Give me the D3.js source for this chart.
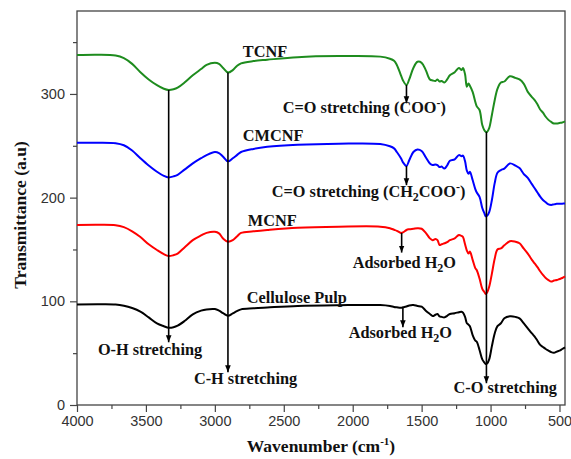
<!DOCTYPE html>
<html><head><meta charset="utf-8">
<script src="https://cdn.jsdelivr.net/npm/d3@7"></script>
<style>
html,body{margin:0;padding:0;background:#fff;}
svg{display:block;}
.lbl{font-family:"Liberation Serif","Times New Roman",serif;font-weight:bold;font-size:16.3px;fill:#111;}
.tick text{font-family:"Liberation Sans",Arial,sans-serif;font-size:14.5px;fill:#333;}
</style>
</head><body>
<svg id="chart" width="571" height="459"></svg>
<script>
const wavenumbers = [4000,3850,3720,3660,3600,3540,3480,3420,3370,3335,3300,3270,3220,3160,3100,3060,3000,2970,2940,2905,2870,2840,2810,2720,2620,2400,2100,1800,1730,1700,1680,1650,1635,1610,1590,1560,1530,1500,1470,1440,1420,1400,1385,1370,1355,1335,1315,1295,1260,1230,1210,1200,1185,1172,1160,1150,1130,1110,1100,1080,1060,1045,1035,1025,1010,990,970,950,925,900,860,820,790,760,730,700,680,660,640,620,600,580,560,540,520,500,480,460];

const tcnf = [337.5,337.8,337,334.5,329,321,314,308.5,305,303.8,304.5,306,311,318,324,328,330,329,325,320.6,323,327,329.5,331.7,333,335.5,336.5,336,334,332,328,318,313,308.6,314,325,331,330,323,314,313,312.5,314,312,312.5,311,314,318,321,325,323,325,319,307,310,308,302,292,288,284.5,270,265,263.5,263.5,267,280,294,305,311,312,317,315.5,314,310,302,297,294,290,285,282,278,275,273,271.5,271.5,272,272.5,273.5];

const cmcnf = [253,253,252.5,250.5,245.5,238,231,225,221,219.5,220.5,222,227,233,238,241,244,243,239.5,235,238,241,244,247,249,251,252,251.7,249.5,247.5,244,238,234,230.5,236,244,246.5,245,239,233,231.4,232,231.4,229.5,230,228,231,235.6,237,241,240,240.5,235,226,223,225,217,208,205,200.8,190,185,182,182.5,186,198,214,224,226.6,228,233,231,228.5,223,219,213,209,205,201,197.7,195.5,193.5,193,193.5,194,194,194.2,194.4];

const mcnf = [173.6,173.8,173.4,171.5,167.5,162,155,149.5,145.5,143.7,144.5,146,152,159,163.5,166,167,165.5,160.5,157.5,159,162.5,166,167.5,168.8,171,172,172,170.5,169,168,166,166.5,168.8,169.5,170,170.5,170,166,160.7,159,160,159,154.3,155,156,157,159,160.7,164,163,162,155,149,146,148,140,131.8,130,122,112,109,107,108.5,114,127,141,150,151,154,158,157.5,156,151,146,140,136.5,133,129,125.5,122.5,120.5,119,120,120.5,121.5,122.5,124];

const pulp = [97,97.2,97,95.8,93.5,90,84.5,78.7,76,74.5,75,76.5,81,87.5,91,92.2,92.5,91,88.5,86,88.4,90.5,92.2,93.2,94,95.6,96.3,96.4,95.5,94.5,94.2,93.8,94.2,95,96,96.4,95.5,94.8,91,87.8,85.8,87,87.8,85.5,85,84.5,86,87.8,88.5,89.5,90,89,85,78.8,77.5,76,67.5,62,61,53,44,41,39.5,40,44,57,69,76,78.8,83.6,85.5,85,83.6,79,74,69,66,62,58,56,54,52.5,51,50.4,51.5,52.4,54,55.6];

const seriesNames = ["TCNF","CMCNF","MCNF","Cellulose Pulp"];
const seriesColors = ["#1e8c1e","#0000ff","#ff0000","#000000"];
const xTicks = [4000,3500,3000,2500,2000,1500,1000,500];
const xMinor = [3750,3250,2750,2250,1750,1250,750];
const yTicks = [0,100,200,300];
const yMinor = [50,150,250,350];

// arrows: [wavenumber, from, to]
const longArrows = [[3335,303.8,60.5],[2905,320.6,31.5],[1030,263.5,21]];
const shortArrows = [[1610,308.6,291],[1610,230.5,212],[1645,166,147],[1636,94,75]];

const svg = d3.select("#chart");
const x = d3.scaleLinear().domain([4000,460]).range([77,565]);
const y = d3.scaleLinear().domain([0,380]).range([405,11]);

svg.append("defs").append("marker")
  .attr("id","ah").attr("viewBox","0 0 10 10").attr("refX",10).attr("refY",5)
  .attr("markerWidth",7).attr("markerHeight",7).attr("markerUnits","userSpaceOnUse")
  .attr("orient","auto")
  .append("path").attr("d","M0,1 L10,5 L0,9 Z").attr("fill","#000");

svg.append("g").attr("transform","translate(0,405)")
  .call(d3.axisBottom(x).tickValues(xTicks).tickSize(7).tickPadding(4).tickFormat(d3.format("d")));
svg.append("g").attr("transform","translate(0,405)")
  .call(d3.axisBottom(x).tickValues(xMinor).tickSize(4).tickFormat(""));
svg.append("g").attr("transform","translate(77,0)")
  .call(d3.axisLeft(y).tickValues(yTicks).tickSize(7).tickPadding(5).tickFormat(d3.format("d")));
svg.append("g").attr("transform","translate(77,0)")
  .call(d3.axisLeft(y).tickValues(yMinor).tickSize(4).tickFormat(""));
svg.selectAll(".domain").remove();
svg.selectAll(".tick line").attr("stroke","#444").attr("stroke-width",1.2);

svg.append("rect").attr("x",x(4000)).attr("y",y(380))
  .attr("width",x(460)-x(4000)).attr("height",y(0)-y(380))
  .attr("fill","none").attr("stroke","#444").attr("stroke-width",1.3);

const all = [tcnf,cmcnf,mcnf,pulp];
const line = d3.line().x((d,i)=>x(wavenumbers[i])).y(d=>y(d)).curve(d3.curveCatmullRom.alpha(0.5));
all.forEach((s,k)=>{
  svg.append("path").datum(s).attr("d",line).attr("fill","none")
    .attr("stroke",seriesColors[k]).attr("stroke-width",2).attr("stroke-linejoin","round");
});

longArrows.concat(shortArrows).forEach(a=>{
  svg.append("line").attr("x1",x(a[0])).attr("x2",x(a[0]))
    .attr("y1",y(a[1])).attr("y2",y(a[2]))
    .attr("stroke","#000").attr("stroke-width",1.6).attr("marker-end","url(#ah)");
});

function label(wn,val,parts,anchor){
  const t = svg.append("text").attr("class","lbl").attr("x",x(wn)).attr("y",y(val))
    .attr("text-anchor",anchor||"start");
  parts.forEach(p=>{
    const ts = t.append("tspan").text(p[0]);
    if(p[1]==="sub"){ts.attr("font-size","12px").attr("dy","4");}
    else if(p[1]==="sup"){ts.attr("font-size","12px").attr("dy","-6");}
    else if(p[1]==="back"){ts.attr("dy",p[2]);}
  });
  return t;
}
label(2797,335.6,[[seriesNames[0]]]);
label(2797,254.6,[[seriesNames[1]]]);
label(2761,172.6,[[seriesNames[2]]]);
label(2768,98.4,[[seriesNames[3]]]);
label(3848,48.2,[["O-H stretching"]]);
label(3152,20.3,[["C-H stretching"]]);
label(1268,11.6,[["C-O stretching"]]);
label(2507,281.6,[["C=O stretching (COO"],["-","sup"],[")","back","6"]]);
label(2587,200.6,[["C=O stretching (CH"],["2","sub"],["COO","back","-4"],["-","sup"],[")","back","6"]]);
label(2000,132,[["Adsorbed H"],["2","sub"],["O","back","-4"]]);
label(2029,64.6,[["Adsorbed H"],["2","sub"],["O","back","-4"]]);

const xt = svg.append("text").attr("class","lbl").attr("x",321).attr("y",452)
  .attr("text-anchor","middle").style("font-size","17.5px");
xt.append("tspan").text("Wavenumber (cm");
xt.append("tspan").text("-1").attr("font-size","11px").attr("dy","-7");
xt.append("tspan").text(")").attr("dy","7");
svg.append("text").attr("class","lbl").attr("transform","translate(26,215) rotate(-90)")
  .attr("text-anchor","middle").style("font-size","17.5px").text("Transmittance (a.u)");
</script>
</body></html>
